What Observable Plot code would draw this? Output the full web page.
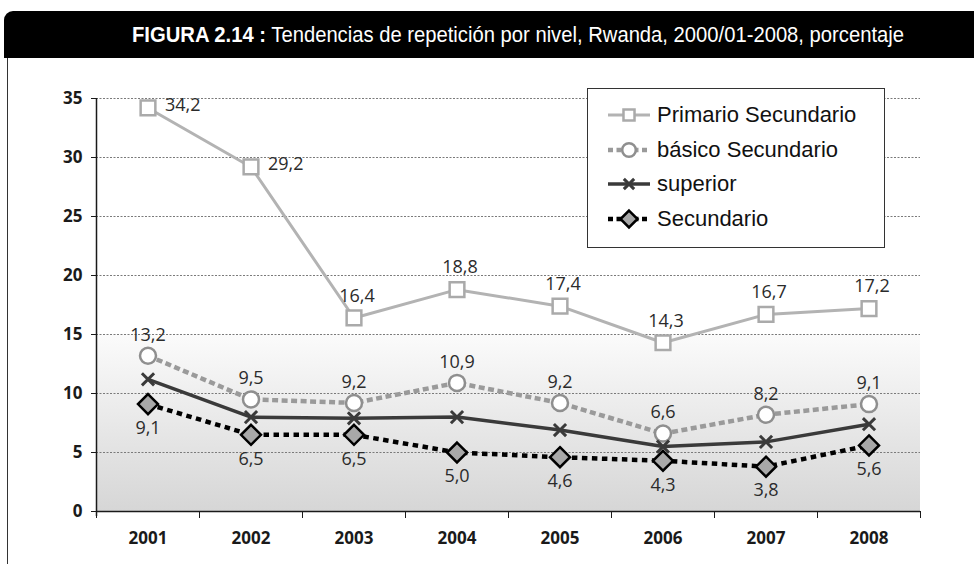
<!DOCTYPE html>
<html>
<head>
<meta charset="utf-8">
<script src="https://cdn.jsdelivr.net/npm/d3@7"></script>
<script src="https://cdn.jsdelivr.net/npm/@observablehq/plot@0.6"></script>
<style>
  html, body { margin: 0; padding: 0; background: #fff; }
  #fig { position: relative; width: 974px; height: 564px; overflow: hidden; background: #fff; }
  #titlebar { position: absolute; left: 4px; top: 11px; width: 1000px; height: 47px; background: #000; border-top-left-radius: 9px; }
  #title { position: absolute; left: 132px; top: 11px; height: 47px; line-height: 47px; white-space: nowrap;
           color: #fff; font-family: "Liberation Sans", Arial, sans-serif; font-size: 22px; transform-origin: 0 50%; }
  #title b { font-weight: bold; }
  #frameline { position: absolute; left: 7px; top: 58px; width: 0; height: 506px; border-left: 1.5px solid #333; }
  #chart { position: absolute; left: 0; top: 58px; }
  #legend { position: absolute; left: 587px; top: 88px; width: 298px; height: 160px; border: 1.5px solid #333;
            background: #fff; box-sizing: border-box; }
  .item { position: absolute; left: 18px; height: 30px; display: flex; align-items: center;
          font-family: "Liberation Sans", Arial, sans-serif; font-size: 22px; color: #111; white-space: nowrap; }
  .item svg { margin-right: 5px; }
</style>
</head>
<body>
<div id="fig">
  <div id="titlebar"></div>
  <div id="title"><b>FIGURA 2.14 :</b> Tendencias de repetición por nivel, Rwanda, 2000/01-2008, porcentaje</div>
  <div id="frameline"></div>
  <div id="chart"></div>
  <div id="legend"></div>
</div>
<script>
// Repetition rates by level, Rwanda (percent)
const years = [2001, 2002, 2003, 2004, 2005, 2006, 2007, 2008];
const primario = [34.2, 29.2, 16.4, 18.8, 17.4, 14.3, 16.7, 17.2];
const basico = [13.2, 9.5, 9.2, 10.9, 9.2, 6.6, 8.2, 9.1];
const superior = [11.2, 8.0, 7.9, 8.0, 6.9, 5.5, 5.9, 7.4];
const secundario = [9.1, 6.5, 6.5, 5.0, 4.6, 4.3, 3.8, 5.6];
const seriesNames = ["Primario Secundario", "básico Secundario", "superior", "Secundario"];
const yTicks = [0, 5, 10, 15, 20, 25, 30, 35];

// Stretch the title to span the black bar
const titleEl = document.getElementById("title");
titleEl.style.transform = `scaleX(${772 / titleEl.getBoundingClientRect().width})`;

const fmt = v => v.toFixed(1).replace(".", ",");
const rows = values => years.map((year, i) => ({year, value: values[i], i}));

const styles = [
  {name: seriesNames[0], data: rows(primario), stroke: "#b3b3b3", width: 3, dash: null,
   symbol: "square", r: 8.3, fill: "#fff", mstroke: "#aaaaaa", mwidth: 2.5},
  {name: seriesNames[1], data: rows(basico), stroke: "#9a9a9a", width: 4.5, dash: "6,3.5",
   symbol: "circle", r: 8, fill: "#fff", mstroke: "#8f8f8f", mwidth: 2.5},
  {name: seriesNames[2], data: rows(superior), stroke: "#3a3a3a", width: 3.5, dash: null,
   symbol: "times", r: 5.6, fill: "none", mstroke: "#3a3a3a", mwidth: 3},
  {name: seriesNames[3], data: rows(secundario), stroke: "#000", width: 4.5, dash: "5.5,4.5",
   symbol: "diamond2", r: 9, fill: "#a8a8a8", mstroke: "#000", mwidth: 2.5}
];

// Gradient used behind the lower part of the plot
const gradientDefs = () => {
  const ns = "http://www.w3.org/2000/svg";
  const defs = document.createElementNS(ns, "defs");
  const lg = document.createElementNS(ns, "linearGradient");
  lg.setAttribute("id", "lowfade");
  lg.setAttribute("x1", "0"); lg.setAttribute("y1", "0");
  lg.setAttribute("x2", "0"); lg.setAttribute("y2", "1");
  [["0", "#fbfbfb"], ["1", "#d6d6d6"]].forEach(([o, c]) => {
    const s = document.createElementNS(ns, "stop");
    s.setAttribute("offset", o); s.setAttribute("stop-color", c);
    lg.appendChild(s);
  });
  defs.appendChild(lg);
  return defs;
};

const bounds = d3.range(years.length + 1).map(i => years[0] - 0.5 + i);
const labelFont = {fontSize: 18, fill: "#2b2b2b", fontFamily: "'Open Sans', sans-serif"};

const marks = [
  gradientDefs,
  Plot.rect([{}], {y1: 0, y2: 15, fill: "url(#lowfade)"}),
  Plot.ruleY(yTicks.filter(d => d > 0), {stroke: "#7a7a7a", strokeWidth: 1, strokeDasharray: "2,1.5"}),
  Plot.ruleY([0], {stroke: "#1a1a1a", strokeWidth: 1.5}),
  Plot.ruleX([bounds[0]], {stroke: "#1a1a1a", strokeWidth: 1.5, insetBottom: -5}),
  Plot.axisY(yTicks, {tickSize: 5, tickPadding: 9, fontSize: 17, fontWeight: "bold", label: null,
    fontFamily: "'Open Sans', sans-serif", stroke: "#1a1a1a"}),
  Plot.axisX(bounds, {tickSize: 7, tickFormat: () => "", label: null, stroke: "#1a1a1a"}),
  Plot.axisX(years, {tickSize: 0, tickPadding: 20, tickFormat: d => String(d), fontSize: 17,
    fontWeight: "bold", label: null, fontFamily: "'Open Sans', sans-serif"})
];

for (const s of styles) {
  marks.push(Plot.line(s.data, {x: "year", y: "value", stroke: s.stroke, strokeWidth: s.width,
    strokeDasharray: s.dash ?? undefined, strokeLinecap: "butt", strokeLinejoin: "round"}));
}
for (const s of styles) {
  marks.push(Plot.dot(s.data, {x: "year", y: "value", symbol: () => s.symbol, r: s.r,
    fill: s.fill, stroke: s.mstroke, strokeWidth: s.mwidth}));
}

// Value labels
const [sP, sB, , sS] = styles;
marks.push(
  Plot.text(sP.data.filter(d => d.i < 2), {x: "year", y: "value", text: d => fmt(d.value),
    textAnchor: "start", dx: 17, dy: -3, ...labelFont}),
  Plot.text(sP.data.filter(d => d.i >= 2), {x: "year", y: "value", text: d => fmt(d.value),
    dx: 3, dy: -22, ...labelFont}),
  Plot.text(sB.data, {x: "year", y: "value", text: d => fmt(d.value), dy: -21, ...labelFont}),
  Plot.text(sS.data, {x: "year", y: "value", text: d => fmt(d.value), dy: 24, ...labelFont})
);

const chart = Plot.plot({
  width: 974,
  height: 506,
  marginTop: 40,
  marginBottom: 53,
  marginLeft: 96,
  marginRight: 54,
  x: {domain: [bounds[0], bounds[bounds.length - 1]]},
  y: {domain: [0, 35]},
  style: {background: "transparent", color: "#1a1a1a", overflow: "visible"},
  marks
});
document.getElementById("chart").appendChild(chart);

// Legend
const legend = document.getElementById("legend");
styles.forEach((s, k) => {
  const item = document.createElement("div");
  item.className = "item";
  item.style.top = (11 + k * 34.6) + "px";
  const svg = d3.create("svg").attr("width", 46).attr("height", 30);
  svg.append("line").attr("x1", 2).attr("x2", 44).attr("y1", 15).attr("y2", 15)
    .attr("stroke", s.stroke).attr("stroke-width", s.width)
    .attr("stroke-dasharray", s.dash ? "5,3.5" : null);
  const symType = {square: d3.symbolSquare, circle: d3.symbolCircle, times: d3.symbolTimes, diamond2: d3.symbolDiamond2}[s.symbol];
  const scale = k === 0 ? 0.75 : 0.85;
  svg.append("path").attr("transform", "translate(23,15)")
    .attr("d", d3.symbol(symType, Math.PI * (s.r * scale) ** 2)())
    .attr("fill", s.fill).attr("stroke", s.mstroke).attr("stroke-width", s.mwidth);
  item.appendChild(svg.node());
  const label = document.createElement("span");
  label.textContent = s.name;
  item.appendChild(label);
  legend.appendChild(item);
});
</script>
</body>
</html>
